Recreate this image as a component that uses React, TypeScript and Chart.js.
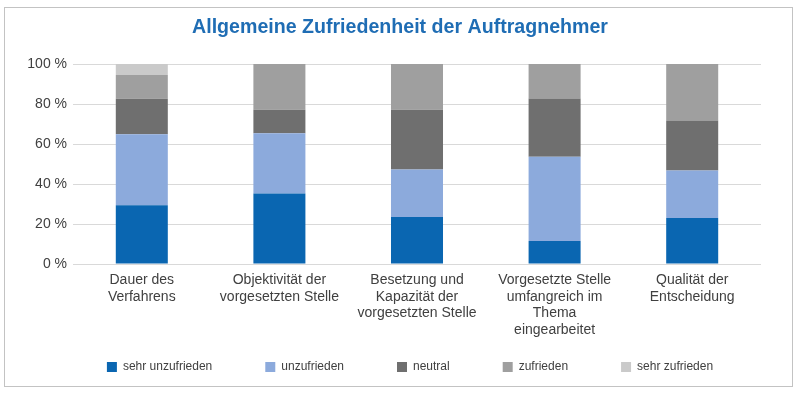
import React, { useEffect, useRef } from "react";
import { Chart, registerables } from "chart.js";

Chart.register(...registerables);

const categories: string[][] = [
  ["Dauer des", "Verfahrens"],
  ["Objektivität der", "vorgesetzten Stelle"],
  ["Besetzung und", "Kapazität der", "vorgesetzten Stelle"],
  ["Vorgesetzte Stelle", "umfangreich im", "Thema", "eingearbeitet"],
  ["Qualität der", "Entscheidung"],
];

const seriesNames = ["sehr unzufrieden", "unzufrieden", "neutral", "zufrieden", "sehr zufrieden"];

const sehrUnzufrieden = [29.4, 35.3, 23.5, 11.5, 23.0];
const unzufrieden = [35.5, 30.1, 23.8, 42.1, 23.8];
const neutral = [17.7, 11.7, 29.8, 29.2, 25.0];
const zufrieden = [11.9, 22.9, 22.9, 17.2, 28.2];
const sehrZufrieden = [5.5, 0, 0, 0, 0];

const seriesValues = [sehrUnzufrieden, unzufrieden, neutral, zufrieden, sehrZufrieden];
const seriesColors = ["#0a66b1", "#8caadc", "#6f6f6f", "#9f9f9f", "#cacaca"];

const yTicks = [0, 20, 40, 60, 80, 100];

const FONT = "'Liberation Sans', Arial, Helvetica, sans-serif";
const LEGEND_PADDING = 53;

const legendShift = {
  id: "legendShift",
  afterLayout(chart: any) {
    const lg = chart.legend;
    if (lg) {
      lg.left += 10;
      lg.right += 10;
      lg.top = 367 - 6 - LEGEND_PADDING;
      lg.bottom = 394;
    }
  },
};

export default function App() {
  const ref = useRef<HTMLCanvasElement>(null);

  useEffect(() => {
    const chart = new Chart(ref.current as HTMLCanvasElement, {
      type: "bar",
      data: {
        labels: categories as any,
        datasets: seriesNames.map((name, i) => ({
          label: name,
          data: seriesValues[i],
          backgroundColor: seriesColors[i],
          borderWidth: 0,
          barPercentage: 0.378,
          categoryPercentage: 1,
        })),
      },
      options: {
        animation: false,
        responsive: false,
        devicePixelRatio: 1,
        layout: { padding: { top: 0, left: 0, right: 0, bottom: 0 } },
        plugins: {
          title: {
            display: true,
            text: "Allgemeine Zufriedenheit der Auftragnehmer",
            color: "#1f6db4",
            font: { family: FONT, size: 19.6, weight: "bold", lineHeight: 1.2 },
            padding: { top: 16, bottom: 24.5 },
          },
          legend: {
            position: "bottom",
            maxHeight: 50,
            labels: {
              boxWidth: 10,
              boxHeight: 10,
              padding: LEGEND_PADDING,
              color: "#404040",
              font: { family: FONT, size: 12 },
            },
          },
          tooltip: { enabled: false },
        },
        scales: {
          x: {
            stacked: true,
            grid: { display: false, drawTicks: false },
            border: { display: false },
            ticks: {
              color: "#404040",
              font: { family: FONT, size: 14, lineHeight: 1.2 },
              padding: 7.5,
              autoSkip: false,
              maxRotation: 0,
              minRotation: 0,
            },
            afterFit: (s: any) => {
              s.height = 80;
            },
          },
          y: {
            stacked: true,
            min: 0,
            max: 100,
            afterBuildTicks: (s: any) => {
              s.ticks = yTicks.map((v) => ({ value: v }));
            },
            grid: { color: "#d9d9d9", lineWidth: 1, drawTicks: false },
            border: { display: false },
            ticks: {
              color: "#404040",
              font: { family: FONT, size: 14 },
              padding: 6,
              callback: (v: any) => `${v} %`,
            },
            afterFit: (s: any) => {
              s.width = 73;
            },
          },
          y2: {
            position: "right",
            display: true,
            grid: { display: false, drawTicks: false },
            border: { display: false },
            ticks: { display: false },
            afterFit: (s: any) => {
              s.width = 39;
            },
          },
        },
      } as any,
      plugins: [legendShift],
    });
    return () => chart.destroy();
  }, []);

  return (
    <div style={{ position: "absolute", left: 0, top: 0, width: 800, height: 394, background: "#ffffff" }}>
      <div
        style={{
          position: "absolute",
          left: 4,
          top: 7,
          width: 789,
          height: 380,
          boxSizing: "border-box",
          border: "1px solid #c3c3c3",
        }}
      />
      <canvas
        ref={ref}
        width={800}
        height={394}
        style={{ position: "absolute", left: 0, top: 0, width: 800, height: 394, display: "block" }}
      />
    </div>
  );
}
